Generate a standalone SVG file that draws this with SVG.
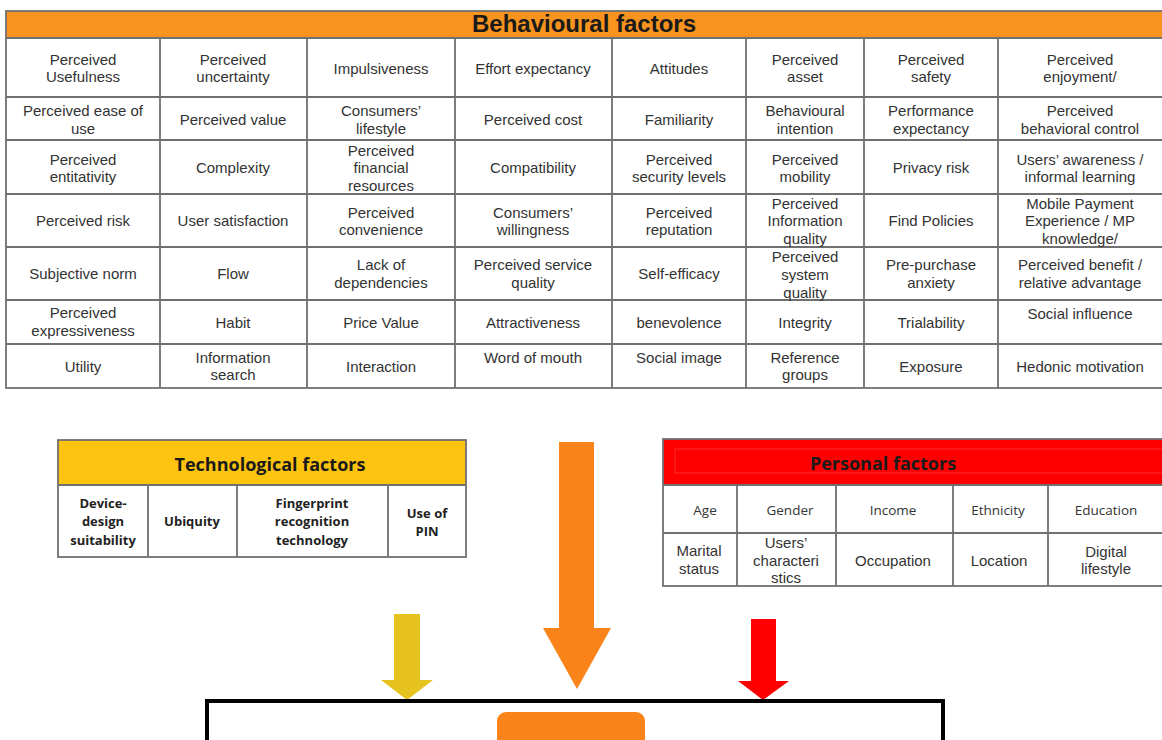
<svg xmlns="http://www.w3.org/2000/svg" width="1162" height="740" viewBox="0 0 1162 740">
<style>
.bg{fill:#ffffff}
.grid{stroke:#707070;stroke-width:1.8;fill:none}
.t{font-family:"Liberation Sans",Arial,sans-serif;font-size:15px;fill:#333333;text-anchor:middle}
.ttl{font-family:"Liberation Sans",Arial,sans-serif;font-size:24px;font-weight:bold;fill:#1a1a1a;text-anchor:middle}
.tb{font-family:"Open Sans",sans-serif;font-size:13px;font-weight:bold;fill:#222222;text-anchor:middle}
.th{font-family:"Open Sans",sans-serif;font-size:18px;font-weight:bold;fill:#1a1a1a;text-anchor:middle}
.pl{font-family:"Open Sans",sans-serif;font-size:13.5px;fill:#333333;text-anchor:middle}
</style>
<rect class="bg" x="0" y="0" width="1162" height="740"/>

<!-- Behavioural factors table -->
<g id="behavioural-factors">
  <rect x="6" y="11" width="1160" height="27" fill="#F7931E"/>
  <rect class="grid" x="6" y="11" width="1160" height="377"/>
  <path class="grid" d="M6 38H1166M6 97H1166M6 140H1166M6 194H1166M6 247H1166M6 300H1166M6 344H1166M160 38V388M307 38V388M455 38V388M612 38V388M746 38V388M864 38V388M998 38V388"/>
  <text class="ttl" x="584" y="32">Behavioural factors</text>
  <g id="b-r1">
    <text class="t" x="83" y="65">Perceived</text><text class="t" x="83" y="82">Usefulness</text>
    <text class="t" x="233" y="65">Perceived</text><text class="t" x="233" y="82">uncertainty</text>
    <text class="t" x="381" y="74">Impulsiveness</text>
    <text class="t" x="533" y="74">Effort expectancy</text>
    <text class="t" x="679" y="74">Attitudes</text>
    <text class="t" x="805" y="65">Perceived</text><text class="t" x="805" y="82">asset</text>
    <text class="t" x="931" y="65">Perceived</text><text class="t" x="931" y="82">safety</text>
    <text class="t" x="1080" y="65">Perceived</text><text class="t" x="1080" y="82">enjoyment/</text>
  </g>
  <g id="b-r2">
    <text class="t" x="83" y="116">Perceived ease of</text><text class="t" x="83" y="134">use</text>
    <text class="t" x="233" y="125">Perceived value</text>
    <text class="t" x="381" y="116">Consumers’</text><text class="t" x="381" y="134">lifestyle</text>
    <text class="t" x="533" y="125">Perceived cost</text>
    <text class="t" x="679" y="125">Familiarity</text>
    <text class="t" x="805" y="116">Behavioural</text><text class="t" x="805" y="134">intention</text>
    <text class="t" x="931" y="116">Performance</text><text class="t" x="931" y="134">expectancy</text>
    <text class="t" x="1080" y="116">Perceived</text><text class="t" x="1080" y="134">behavioral control</text>
  </g>
  <g id="b-r3">
    <text class="t" x="83" y="165">Perceived</text><text class="t" x="83" y="182">entitativity</text>
    <text class="t" x="233" y="173">Complexity</text>
    <text class="t" x="381" y="156">Perceived</text><text class="t" x="381" y="173">financial</text><text class="t" x="381" y="191">resources</text>
    <text class="t" x="533" y="173">Compatibility</text>
    <text class="t" x="679" y="165">Perceived</text><text class="t" x="679" y="182">security levels</text>
    <text class="t" x="805" y="165">Perceived</text><text class="t" x="805" y="182">mobility</text>
    <text class="t" x="931" y="173">Privacy risk</text>
    <text class="t" x="1080" y="165">Users’ awareness /</text><text class="t" x="1080" y="182">informal learning</text>
  </g>
  <g id="b-r4">
    <text class="t" x="83" y="226">Perceived risk</text>
    <text class="t" x="233" y="226">User satisfaction</text>
    <text class="t" x="381" y="218">Perceived</text><text class="t" x="381" y="235">convenience</text>
    <text class="t" x="533" y="218">Consumers’</text><text class="t" x="533" y="235">willingness</text>
    <text class="t" x="679" y="218">Perceived</text><text class="t" x="679" y="235">reputation</text>
    <text class="t" x="805" y="209">Perceived</text><text class="t" x="805" y="226">Information</text><text class="t" x="805" y="244">quality</text>
    <text class="t" x="931" y="226">Find Policies</text>
    <text class="t" x="1080" y="209">Mobile Payment</text><text class="t" x="1080" y="226">Experience / MP</text><text class="t" x="1080" y="244">knowledge/</text>
  </g>
  <g id="b-r5">
    <text class="t" x="83" y="279">Subjective norm</text>
    <text class="t" x="233" y="279">Flow</text>
    <text class="t" x="381" y="270">Lack of</text><text class="t" x="381" y="288">dependencies</text>
    <text class="t" x="533" y="270">Perceived service</text><text class="t" x="533" y="288">quality</text>
    <text class="t" x="679" y="279">Self-efficacy</text>
    <text class="t" x="805" y="262">Perceived</text><text class="t" x="805" y="280">system</text><text class="t" x="805" y="298">quality</text>
    <text class="t" x="931" y="270">Pre-purchase</text><text class="t" x="931" y="288">anxiety</text>
    <text class="t" x="1080" y="270">Perceived benefit /</text><text class="t" x="1080" y="288">relative advantage</text>
  </g>
  <g id="b-r6">
    <text class="t" x="83" y="318">Perceived</text><text class="t" x="83" y="336">expressiveness</text>
    <text class="t" x="233" y="328">Habit</text>
    <text class="t" x="381" y="328">Price Value</text>
    <text class="t" x="533" y="328">Attractiveness</text>
    <text class="t" x="679" y="328">benevolence</text>
    <text class="t" x="805" y="328">Integrity</text>
    <text class="t" x="931" y="328">Trialability</text>
    <text class="t" x="1080" y="319">Social influence</text>
  </g>
  <g id="b-r7">
    <text class="t" x="83" y="372">Utility</text>
    <text class="t" x="233" y="363">Information</text><text class="t" x="233" y="380">search</text>
    <text class="t" x="381" y="372">Interaction</text>
    <text class="t" x="533" y="363">Word of mouth</text>
    <text class="t" x="679" y="363">Social image</text>
    <text class="t" x="805" y="363">Reference</text><text class="t" x="805" y="380">groups</text>
    <text class="t" x="931" y="372">Exposure</text>
    <text class="t" x="1080" y="372">Hedonic motivation</text>
  </g>
</g>

<!-- Technological factors table -->
<g id="technological-factors">
  <rect x="58" y="440" width="408" height="45" fill="#FDC40F"/>
  <rect class="grid" x="58" y="440" width="408" height="117"/>
  <path class="grid" d="M58 485H466M148 485V557M237 485V557M388 485V557"/>
  <text class="th" x="270" y="471">Technological factors</text>
  <g id="t-cells">
    <text class="tb" x="103" y="508">Device-</text><text class="tb" x="103" y="526">design</text><text class="tb" x="103" y="545">suitability</text>
    <text class="tb" x="192" y="526">Ubiquity</text>
    <text class="tb" x="312" y="508">Fingerprint</text><text class="tb" x="312" y="526">recognition</text><text class="tb" x="312" y="545">technology</text>
    <text class="tb" x="427" y="518">Use of</text><text class="tb" x="427" y="536">PIN</text>
  </g>
</g>

<!-- Personal factors table -->
<g id="personal-factors">
  <rect x="663" y="439" width="503" height="46" fill="#FF0000"/>
  <rect x="675" y="449" width="491" height="24" fill="none" stroke="#ff2a2a" stroke-width="1"/>
  <rect class="grid" x="663" y="439" width="503" height="147"/>
  <path class="grid" d="M663 485H1166M663 533H1166M737 485V586M836 485V586M953 485V586M1048 485V586"/>
  <text class="th" x="883" y="470">Personal factors</text>
  <g id="p-cells">
    <text class="pl" x="705" y="515">Age</text>
    <text class="pl" x="790" y="515">Gender</text>
    <text class="pl" x="893" y="515">Income</text>
    <text class="pl" x="998" y="515">Ethnicity</text>
    <text class="pl" x="1106" y="515">Education</text>
    <text class="t" x="699" y="556">Marital</text><text class="t" x="699" y="574">status</text>
    <text class="t" x="786" y="548">Users’</text><text class="t" x="786" y="566">characteri</text><text class="t" x="786" y="583">stics</text>
    <text class="t" x="893" y="566">Occupation</text>
    <text class="t" x="999" y="566">Location</text>
    <text class="t" x="1106" y="557">Digital</text><text class="t" x="1106" y="574">lifestyle</text>
  </g>
</g>

<!-- Connectors (block arrows) -->
<g id="connectors">
  <polygon fill="#E6C21F" points="394,614 420,614 420,680 433,680 407,700 381,680 394,680"/>
  <polygon fill="#FA8419" points="559,442 594,442 594,628 611,628 577,689 543,628 559,628"/>
  <polygon fill="#FF0000" points="751,619 776,619 776,681 789,681 763,700 738,681 751,681"/>
</g>

<!-- Bottom outcome box -->
<g id="outcome">
  <rect x="207" y="701" width="736" height="70" fill="none" stroke="#000000" stroke-width="4"/>
  <rect x="497" y="712" width="148" height="60" rx="9" fill="#FA8419"/>
</g>
</svg>
